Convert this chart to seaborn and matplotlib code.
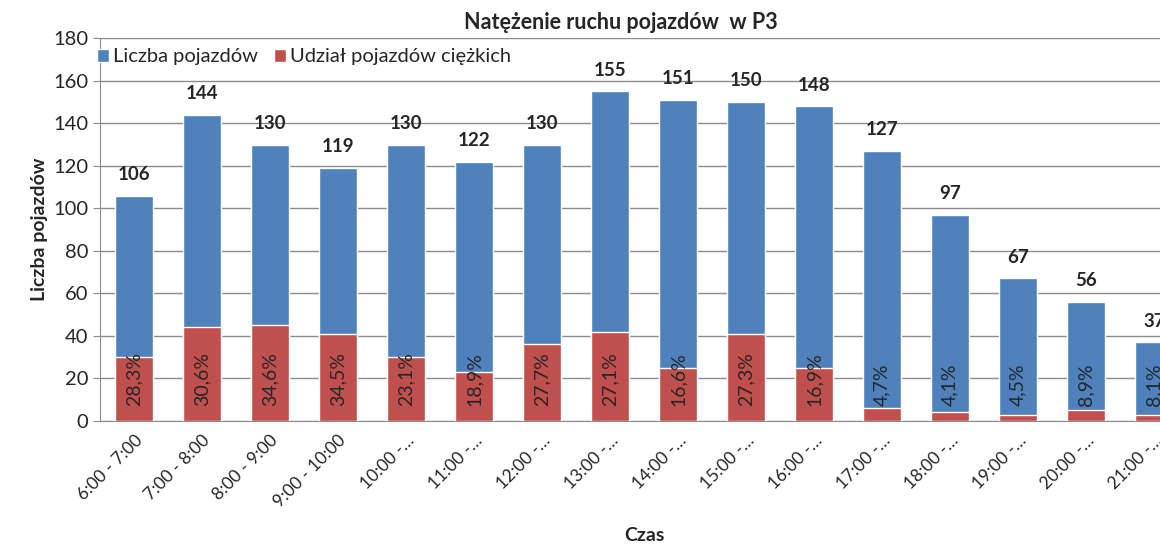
import matplotlib
matplotlib.use("Agg")
import matplotlib.pyplot as plt
import numpy as np
import pandas as pd
import seaborn as sns

# Dane
czas = ["6:00 - 7:00", "7:00 - 8:00", "8:00 - 9:00", "9:00 - 10:00",
        "10:00 -…", "11:00 -…", "12:00 -…", "13:00 -…", "14:00 -…", "15:00 -…",
        "16:00 -…", "17:00 -…", "18:00 -…", "19:00 -…", "20:00 -…", "21:00 -…"]
liczba_pojazdow = [106, 144, 130, 119, 130, 122, 130, 155, 151, 150, 148, 127, 97, 67, 56, 37]
pojazdy_ciezkie = [30, 44, 45, 41, 30, 23, 36, 42, 25, 41, 25, 6, 4, 3, 5, 3]
udzial_proc = ["28,3%", "30,6%", "34,6%", "34,5%", "23,1%", "18,9%", "27,7%", "27,1%",
               "16,6%", "27,3%", "16,9%", "4,7%", "4,1%", "4,5%", "8,9%", "8,1%"]

NIEBIESKI = "#4F81BD"
CZERWONY = "#C0504D"
SZARY = "#8C8C8C"

sns.set_style("white")
plt.rcParams["font.family"] = ["Lato", "DejaVu Sans"]

df = pd.DataFrame({"Czas": czas, "Liczba": liczba_pojazdow, "Ciezkie": pojazdy_ciezkie})

fig = plt.figure(figsize=(11.6, 5.46), dpi=100)
ax = fig.add_axes([0.0862, 0.229, 0.938, 0.701])

sns.barplot(data=df, x="Czas", y="Liczba", color=NIEBIESKI, saturation=1,
            width=0.56, label="Liczba pojazdów", ax=ax, zorder=2)
sns.barplot(data=df, x="Czas", y="Ciezkie", color=CZERWONY, saturation=1,
            width=0.56, label="Udział pojazdów ciężkich", ax=ax, zorder=3)

# Etykiety wartości
for i, v in enumerate(liczba_pojazdow):
    ax.text(i, v + 6, str(v), ha="center", va="bottom", fontsize=13.5,
            fontweight="bold", zorder=4)
for i, p in enumerate(udzial_proc):
    ax.text(i, 7, p, ha="center", va="bottom", rotation=90, fontsize=14, zorder=4)

ax.set_ylim(0, 180)
ax.set_xlim(-0.5, len(czas) - 0.5)
ax.set_yticks(np.arange(0, 181, 20))
ax.yaxis.grid(True, color=SZARY, linewidth=1, zorder=0)
ax.set_axisbelow(True)

ax.set_xticks(range(len(czas)))
ax.set_xticklabels(czas, rotation=45, ha="right", rotation_mode="anchor", fontsize=12.5)
ax.tick_params(axis="x", length=0, pad=8)
ax.set_xticks(np.arange(-0.5, len(czas), 1), minor=True)
ax.tick_params(axis="x", which="minor", length=6, color=SZARY, direction="out")
ax.tick_params(axis="y", labelsize=14.5, length=5, color=SZARY, direction="out", left=True)

for s in ["top", "right"]:
    ax.spines[s].set_visible(False)
for s in ["left", "bottom"]:
    ax.spines[s].set_color(SZARY)

ax.set_xlabel("Czas", fontsize=14, fontweight="bold", labelpad=12)
ax.set_ylabel("Liczba pojazdów", fontsize=14, fontweight="bold", labelpad=4)
fig.text(0.535, 0.958, "Natężenie ruchu pojazdów  w P3", ha="center", va="center",
         fontsize=15.5, fontweight="bold")

ax.legend(loc="upper left", bbox_to_anchor=(-0.012, 1.0), ncol=2, frameon=False,
          fontsize=14.5, handlelength=0.6, handleheight=0.6, handletextpad=0.2,
          columnspacing=0.8, borderaxespad=0.1)

fig.savefig("out.png", dpi=100)
